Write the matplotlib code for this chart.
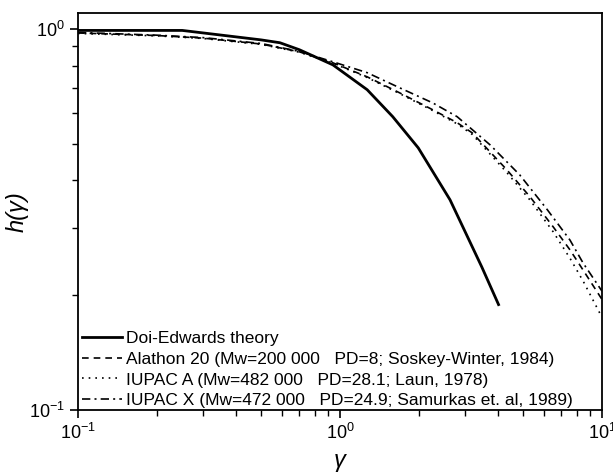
import numpy as np
import matplotlib.pyplot as plt
from matplotlib.ticker import LogLocator, NullFormatter

plt.rcParams['font.family'] = ['Liberation Sans', 'DejaVu Sans']
plt.rcParams['mathtext.default'] = 'regular'

# values
gam_de = [0.1, 0.25, 0.5, 0.59, 0.70, 0.94, 1.27, 1.59, 1.99, 2.63, 3.48, 4.03]
h_de = [0.99, 0.99, 0.935, 0.919, 0.881, 0.804, 0.692, 0.588, 0.487, 0.356, 0.237, 0.189]

gam_al = [0.1, 0.2, 0.3, 0.5, 0.7, 0.94, 1.27, 1.69, 2.26, 2.8, 3.2, 4.33, 5.32, 6.52, 7.55, 8.5, 10]
h_al = [0.975, 0.96, 0.945, 0.912, 0.87, 0.814, 0.748, 0.679, 0.613, 0.567, 0.533, 0.427,
        0.362, 0.302, 0.263, 0.232, 0.195]

gam_ia = [0.1, 0.2, 0.3, 0.5, 0.7, 0.94, 1.27, 1.69, 2.26, 2.8, 3.2, 4.33, 5.32, 6.52, 7.55, 8.5, 10]
h_ia = [0.972, 0.958, 0.943, 0.91, 0.868, 0.812, 0.745, 0.676, 0.61, 0.563, 0.528, 0.42,
        0.355, 0.293, 0.25, 0.217, 0.175]

gam_ix = [0.1, 0.2, 0.3, 0.5, 0.7, 0.94, 1.27, 1.69, 2.26, 2.8, 3.74, 4.85, 6.19, 7.55, 8.47, 10]
h_ix = [0.978, 0.962, 0.948, 0.915, 0.872, 0.819, 0.767, 0.700, 0.639, 0.588, 0.496, 0.414,
        0.335, 0.279, 0.243, 0.205]

labels = ['Doi-Edwards theory',
          'Alathon 20 (Mw=200 000   PD=8; Soskey-Winter, 1984)',
          'IUPAC A (Mw=482 000   PD=28.1; Laun, 1978)',
          'IUPAC X (Mw=472 000   PD=24.9; Samurkas et. al, 1989)']

fig = plt.figure(figsize=(6.13, 4.72), dpi=100)
ax = fig.add_axes([0.1272, 0.1314, 0.8548, 0.8411])

ax.plot(gam_de, h_de, '-', color='black', lw=2.0, label=labels[0])
ax.plot(gam_al, h_al, '--', color='black', lw=1.2, dashes=(4, 3), label=labels[1])
ax.plot(gam_ia, h_ia, ':', color='black', lw=1.2, dashes=(1, 3), label=labels[2])
ax.plot(gam_ix, h_ix, '-.', color='black', lw=1.2, dashes=(5, 2.5, 1.2, 2.5), label=labels[3])

ax.set_xscale('log')
ax.set_yscale('log')
ax.set_xlim(0.1, 10)
ax.set_ylim(0.1, 1.1)

ax.xaxis.set_major_locator(LogLocator(base=10, numticks=10))
ax.yaxis.set_major_locator(LogLocator(base=10, numticks=10))
ax.xaxis.set_minor_locator(LogLocator(base=10, subs=np.arange(2, 10), numticks=20))
ax.yaxis.set_minor_locator(LogLocator(base=10, subs=np.arange(2, 10), numticks=20))
ax.yaxis.set_minor_formatter(NullFormatter())
ax.xaxis.set_minor_formatter(NullFormatter())

ax.tick_params(which='both', direction='out', top=False, right=False, labelsize=13)
ax.tick_params(which='major', length=6, width=1.2)
ax.tick_params(which='minor', length=4, width=1.0)
for s in ax.spines.values():
    s.set_linewidth(1.3)

ax.set_xlabel('γ', fontsize=17, style='italic', labelpad=4)
ax.set_ylabel('h(γ)', fontsize=17, style='italic')
ax.yaxis.set_label_coords(-0.095, 0.5)

ax.legend(loc='lower left', bbox_to_anchor=(0.008, 0.004), frameon=False, fontsize=12.5,
          handlelength=2.3, handletextpad=0.25, labelspacing=0.33,
          borderaxespad=0.0, borderpad=0.0)

fig.savefig('out.png', dpi=100)
